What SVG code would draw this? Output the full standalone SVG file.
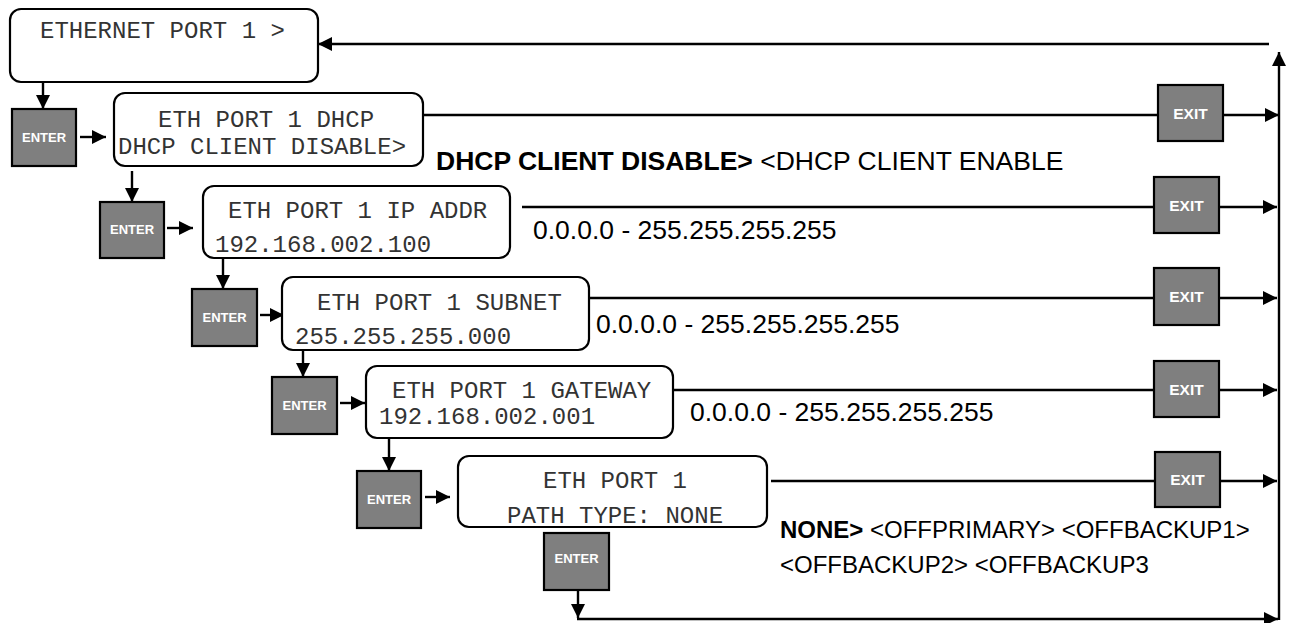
<svg xmlns="http://www.w3.org/2000/svg" width="1292" height="623" viewBox="0 0 1292 623">
<style>
.node{fill:#fff;stroke:#000;stroke-width:2.2}
.mono{font-family:"Courier New","Liberation Mono",monospace;font-size:24px;fill:#333}
.btn{fill:#7f7f7f;stroke:#000;stroke-width:2.2}
.btxt{font-family:"Liberation Sans",Arial,sans-serif;font-weight:bold;fill:#fff;text-anchor:middle}
.enter{font-size:13px}
.exit{font-size:15.5px}
.lbl{font-family:"Liberation Sans",Arial,sans-serif;fill:#000}
.rng{font-size:26.5px}
.opt{font-size:24px}
.c line,.c path{stroke:#000;stroke-width:2.4;fill:none}
</style>
<defs>
<marker id="ah" viewBox="0 0 14 14" refX="14" refY="7" markerWidth="14" markerHeight="14" markerUnits="userSpaceOnUse" orient="auto">
<path d="M0,0 L14,7 L0,14 z" fill="#000"/>
</marker>
</defs>
<g class="c" id="connectors">
<line x1="43" y1="82" x2="43" y2="109" marker-end="url(#ah)"/>
<line x1="80" y1="137" x2="106" y2="137" marker-end="url(#ah)"/>
<line x1="132" y1="171" x2="132" y2="202" marker-end="url(#ah)"/>
<line x1="167" y1="228" x2="193" y2="228" marker-end="url(#ah)"/>
<line x1="223" y1="258" x2="223" y2="289" marker-end="url(#ah)"/>
<line x1="260" y1="315" x2="284" y2="315" marker-end="url(#ah)"/>
<line x1="303" y1="350" x2="303" y2="377" marker-end="url(#ah)"/>
<line x1="340" y1="403" x2="365" y2="403" marker-end="url(#ah)"/>
<line x1="389" y1="438" x2="389" y2="471" marker-end="url(#ah)"/>
<line x1="425" y1="497" x2="450" y2="497" marker-end="url(#ah)"/>
<line x1="578" y1="590" x2="578" y2="618" marker-end="url(#ah)"/>
<line x1="577" y1="619" x2="1278" y2="619" marker-end="url(#ah)"/>
<line x1="423" y1="115" x2="1158" y2="115"/>
<line x1="522" y1="207" x2="1154" y2="207"/>
<line x1="589" y1="298" x2="1154" y2="298"/>
<line x1="673" y1="390" x2="1154" y2="390"/>
<line x1="771" y1="481" x2="1155" y2="481"/>
<line x1="1223" y1="115" x2="1279" y2="115" marker-end="url(#ah)"/>
<line x1="1219" y1="207" x2="1277" y2="207" marker-end="url(#ah)"/>
<line x1="1219" y1="298" x2="1277" y2="298" marker-end="url(#ah)"/>
<line x1="1219" y1="390" x2="1277" y2="390" marker-end="url(#ah)"/>
<line x1="1220" y1="481" x2="1277" y2="481" marker-end="url(#ah)"/>
<line x1="1279" y1="620" x2="1279" y2="52" marker-end="url(#ah)"/>
<line x1="1269" y1="44" x2="318" y2="44" marker-end="url(#ah)"/>
</g>
<g id="n1">
<rect class="node" x="10" y="9" width="308" height="73" rx="11"/>
<text class="mono" x="40" y="38">ETHERNET PORT 1 &gt;</text>
</g>
<g id="n2">
<rect class="node" x="114" y="93" width="309" height="73" rx="11"/>
<text class="mono" x="158" y="127">ETH PORT 1 DHCP</text>
<text class="mono" x="118" y="154">DHCP CLIENT DISABLE&gt;</text>
</g>
<g id="n3">
<rect class="node" x="203" y="186" width="307" height="72" rx="11"/>
<text class="mono" x="228" y="218">ETH PORT 1 IP ADDR</text>
<text class="mono" x="215" y="252">192.168.002.100</text>
</g>
<g id="n4">
<rect class="node" x="282" y="277" width="307" height="73" rx="11"/>
<text class="mono" x="317" y="310">ETH PORT 1 SUBNET</text>
<text class="mono" x="295" y="344">255.255.255.000</text>
</g>
<g id="n5">
<rect class="node" x="366" y="366" width="307" height="72" rx="11"/>
<text class="mono" x="392" y="398">ETH PORT 1 GATEWAY</text>
<text class="mono" x="379" y="424">192.168.002.001</text>
</g>
<g id="n6">
<rect class="node" x="458" y="456" width="309" height="71" rx="11"/>
<text class="mono" x="543" y="488">ETH PORT 1</text>
<text class="mono" x="507" y="523">PATH TYPE: NONE</text>
</g>
<g id="enter1"><rect class="btn" x="12" y="109" width="64" height="57"/><text class="btxt enter" x="44" y="142">ENTER</text></g>
<g id="enter2"><rect class="btn" x="100" y="202" width="64" height="56"/><text class="btxt enter" x="132" y="234">ENTER</text></g>
<g id="enter3"><rect class="btn" x="192" y="289" width="65" height="57"/><text class="btxt enter" x="224.5" y="322">ENTER</text></g>
<g id="enter4"><rect class="btn" x="272" y="377" width="65" height="57"/><text class="btxt enter" x="304.5" y="410">ENTER</text></g>
<g id="enter5"><rect class="btn" x="357" y="471" width="64" height="57"/><text class="btxt enter" x="389" y="504">ENTER</text></g>
<g id="enter6"><rect class="btn" x="544" y="533" width="65" height="57"/><text class="btxt enter" x="576.5" y="563">ENTER</text></g>
<g id="exit1"><rect class="btn" x="1158" y="85" width="65" height="56"/><text class="btxt exit" x="1190.5" y="118.5">EXIT</text></g>
<g id="exit2"><rect class="btn" x="1154" y="177" width="65" height="56"/><text class="btxt exit" x="1186.5" y="210.5">EXIT</text></g>
<g id="exit3"><rect class="btn" x="1154" y="268" width="65" height="57"/><text class="btxt exit" x="1186.5" y="302">EXIT</text></g>
<g id="exit4"><rect class="btn" x="1154" y="361" width="65" height="56"/><text class="btxt exit" x="1186.5" y="394.5">EXIT</text></g>
<g id="exit5"><rect class="btn" x="1155" y="452" width="65" height="55"/><text class="btxt exit" x="1187.5" y="485">EXIT</text></g>
<g id="labels">
<text class="lbl rng" x="436" y="170"><tspan font-weight="bold">DHCP CLIENT DISABLE&gt;</tspan> &lt;DHCP CLIENT ENABLE</text>
<text class="lbl rng" x="533" y="239">0.0.0.0 - 255.255.255.255</text>
<text class="lbl rng" x="596" y="333">0.0.0.0 - 255.255.255.255</text>
<text class="lbl rng" x="690" y="421">0.0.0.0 - 255.255.255.255</text>
<text class="lbl opt" x="780" y="538"><tspan font-weight="bold">NONE&gt;</tspan> &lt;OFFPRIMARY&gt; &lt;OFFBACKUP1&gt;</text>
<text class="lbl opt" x="780" y="573">&lt;OFFBACKUP2&gt; &lt;OFFBACKUP3</text>
</g>
</svg>
